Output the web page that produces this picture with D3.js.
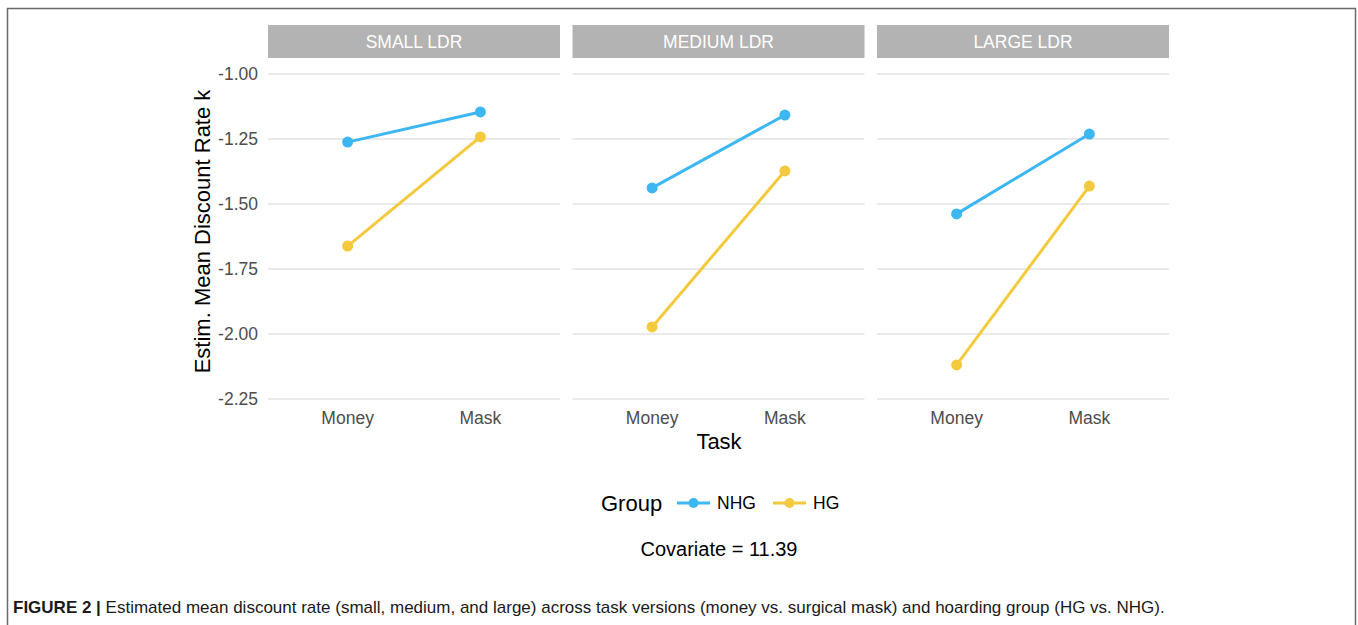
<!DOCTYPE html>
<html>
<head>
<meta charset="utf-8">
<script src="https://cdn.jsdelivr.net/npm/d3@7"></script>
<style>
  body { margin: 0; background: #fff; }
  svg { display: block; font-family: "Liberation Sans", Arial, sans-serif; }
</style>
</head>
<body>
<div id="wrapper"></div>
<script>
// data
const panels = ["SMALL LDR", "MEDIUM LDR", "LARGE LDR"];
const tasks = ["Money", "Mask"];
const groups = ["NHG", "HG"];
const nhgValues = [[-1.262, -1.146], [-1.438, -1.158], [-1.538, -1.231]];
const hgValues = [[-1.662, -1.242], [-1.973, -1.373], [-2.119, -1.431]];
const yTicks = [-1.00, -1.25, -1.50, -1.75, -2.00, -2.25];
const covariateLabel = "Covariate = 11.39";

const colors = { NHG: "#3db7f2", HG: "#f3ca3e" };

function drawChart() {
  const dimensions = {
    width: 1358,
    height: 625,
    panelLeft: 268,
    panelWidth: 292,
    panelGap: 12.5,
    panelTop: 59,
    panelBottom: 404,
  };

  const svg = d3.select("#wrapper").append("svg")
    .attr("width", dimensions.width)
    .attr("height", dimensions.height);

  // frame
  svg.append("path")
    .attr("d", "M7.5,640 V8.5 H1355.5 V640")
    .attr("fill", "none")
    .attr("stroke", "#6a6a6a")
    .attr("stroke-width", 1.5);

  const yScale = d3.scaleLinear()
    .domain([-1, -2.25])
    .range([74, 399]);

  // ggplot discrete expansion of 0.6 on each side
  const xScale = d3.scalePoint()
    .domain(tasks)
    .range([0, dimensions.panelWidth])
    .padding(0.6);

  const fmt = (d) => d.toFixed(2);

  panels.forEach((name, i) => {
    const x0 = dimensions.panelLeft + i * (dimensions.panelWidth + dimensions.panelGap);
    const g = svg.append("g").attr("transform", `translate(${x0},0)`);

    // strip
    g.append("rect")
      .attr("x", 0).attr("y", 25)
      .attr("width", dimensions.panelWidth).attr("height", 33)
      .attr("fill", "#b3b3b3");
    g.append("text")
      .attr("x", dimensions.panelWidth / 2).attr("y", 48)
      .attr("text-anchor", "middle")
      .attr("fill", "#ffffff")
      .attr("font-size", 17.5)
      .text(name);

    // grid
    g.selectAll(".grid")
      .data(yTicks)
      .enter().append("line")
        .attr("x1", 0).attr("x2", dimensions.panelWidth)
        .attr("y1", (d) => yScale(d)).attr("y2", (d) => yScale(d))
        .attr("stroke", "#e3e3e3")
        .attr("stroke-width", 1.4);

    // x tick labels
    g.selectAll(".xlab")
      .data(tasks)
      .enter().append("text")
        .attr("x", (d) => xScale(d))
        .attr("y", 424)
        .attr("text-anchor", "middle")
        .attr("fill", "#4d4d4d")
        .attr("font-size", 17.5)
        .text((d) => d);

    const series = [
      { group: "NHG", values: nhgValues[i] },
      { group: "HG", values: hgValues[i] },
    ];
    const line = d3.line()
      .x((d, j) => xScale(tasks[j]))
      .y((d) => yScale(d));

    series.forEach((s) => {
      g.append("path")
        .datum(s.values)
        .attr("d", line)
        .attr("fill", "none")
        .attr("stroke", colors[s.group])
        .attr("stroke-width", 3);
      g.selectAll(null)
        .data(s.values)
        .enter().append("circle")
          .attr("cx", (d, j) => xScale(tasks[j]))
          .attr("cy", (d) => yScale(d))
          .attr("r", 5.5)
          .attr("fill", colors[s.group]);
    });
  });

  // y axis labels (only left)
  svg.selectAll(".ylab")
    .data(yTicks)
    .enter().append("text")
      .attr("x", 258)
      .attr("y", (d) => yScale(d) + 6)
      .attr("text-anchor", "end")
      .attr("fill", "#4d4d4d")
      .attr("font-size", 17.5)
      .text(fmt);

  // axis titles
  svg.append("text")
    .attr("transform", `translate(210,${(59 + 404) / 2}) rotate(-90)`)
    .attr("text-anchor", "middle")
    .attr("fill", "#000")
    .attr("font-size", 22)
    .text("Estim. Mean Discount Rate k");

  svg.append("text")
    .attr("x", 719).attr("y", 449)
    .attr("text-anchor", "middle")
    .attr("fill", "#000")
    .attr("font-size", 22)
    .text("Task");

  // legend
  const legend = svg.append("g");
  legend.append("text")
    .attr("x", 601).attr("y", 511)
    .attr("font-size", 22)
    .attr("fill", "#000")
    .text("Group");
  const keyX = [677, 773];
  groups.forEach((grp, k) => {
    legend.append("line")
      .attr("x1", keyX[k]).attr("x2", keyX[k] + 33)
      .attr("y1", 503).attr("y2", 503)
      .attr("stroke", colors[grp])
      .attr("stroke-width", 3);
    legend.append("circle")
      .attr("cx", keyX[k] + 16.5).attr("cy", 503)
      .attr("r", 5)
      .attr("fill", colors[grp]);
    legend.append("text")
      .attr("x", keyX[k] + 40).attr("y", 509)
      .attr("font-size", 17.5)
      .attr("fill", "#000")
      .text(grp);
  });

  svg.append("text")
    .attr("x", 719).attr("y", 556)
    .attr("text-anchor", "middle")
    .attr("font-size", 20)
    .attr("fill", "#000")
    .text(covariateLabel);

  // caption
  const cap = svg.append("text")
    .attr("x", 13).attr("y", 613)
    .attr("font-size", 17)
    .attr("fill", "#1a1a1a");
  cap.append("tspan").attr("font-weight", "bold").text("FIGURE 2 | ");
  cap.append("tspan")
    .text("Estimated mean discount rate (small, medium, and large) across task versions (money vs. surgical mask) and hoarding group (HG vs. NHG).");
}

drawChart();
</script>
</body>
</html>
